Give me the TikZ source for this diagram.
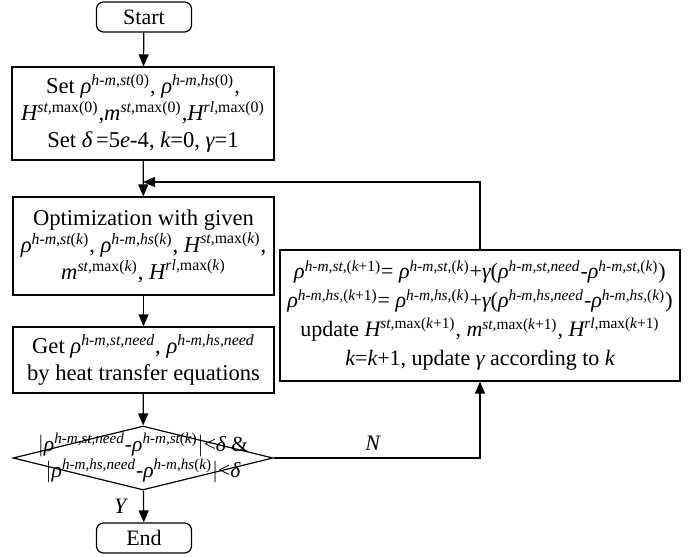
\documentclass[tikz,border=0pt]{standalone}
\usepackage{amsmath}
\usepackage{fontspec}
\setmainfont{Liberation Serif}
\usetikzlibrary{arrows.meta,shapes.geometric}
\newcommand{\iv}[1]{\text{\itshape #1}}
\newcommand{\up}[1]{\text{\upshape #1}}
\tikzset{
  procbox/.style={draw, line width=0.6pt, align=center, inner sep=2pt,
                  font=\fontsize{11.3}{13.5}\selectfont},
  termbox/.style={draw, line width=0.6pt, rounded corners=3.5pt,
                  minimum width=47.5pt, minimum height=15pt, inner sep=0pt,
                  font=\fontsize{11}{13}\selectfont},
  flow/.style={line width=0.6pt, -{Triangle[length=6pt,width=5pt]}},
  lbl/.style={font=\fontsize{11}{13}\selectfont\itshape}
}
\begin{document}
\begin{tikzpicture}[x=0.5pt,y=-0.5pt]
        \useasboundingbox (0,0) rectangle (694,556);
        \node[termbox] (start) at (144,17) {Start};
        \node[procbox, minimum width=131pt, minimum height=46.5pt] (init) at (143,113.5)
          {Set $\iv{ρ}^{\iv{h-m,st}\up{(0)}}$, $\iv{ρ}^{\iv{h-m,hs}\up{(0)}}$,\\
           $\iv{H}^{\iv{st,}\up{max(0)}}$,$\iv{m}^{\iv{st,}\up{max(0)}}$,$\iv{H}^{\iv{rl,}\up{max(0)}}$\\
           Set \iv{δ}\,=5\iv{e}-4, \iv{k}=0, \iv{γ}=1};
        \node[procbox, minimum width=130.5pt, minimum height=49pt] (opt) at (143.5,246)
          {Optimization with given\\
           $\iv{ρ}^{\iv{h-m,st}\up{(}\iv{k}\up{)}}$, $\iv{ρ}^{\iv{h-m,hs}\up{(}\iv{k}\up{)}}$, $\iv{H}^{\iv{st,}\up{max(}\iv{k}\up{)}}$,\\
           $\iv{m}^{\iv{st,}\up{max(}\iv{k}\up{)}}$, $\iv{H}^{\iv{rl,}\up{max(}\iv{k}\up{)}}$};
        \node[procbox, minimum width=130.5pt, minimum height=33pt] (heat) at (143.5,360)
          {Get $\iv{ρ}^{\iv{h-m,st,need}}$, $\iv{ρ}^{\iv{h-m,hs,need}}$\\
           by heat transfer equations};
        \node[draw, line width=0.6pt, diamond, inner sep=0pt,
              minimum width=130pt, minimum height=32pt] (check) at (143,458) {};
        \node[align=center, inner sep=0pt, font=\fontsize{10.8}{11.5}\selectfont] (cond) at (143,458)
          {$|\iv{ρ}^{\iv{h-m,st,need}}\up{-}\iv{ρ}^{\iv{h-m,st}\up{(}\iv{k}\up{)}}|\up{<}\iv{δ}$ \&\\
           $|\iv{ρ}^{\iv{h-m,hs,need}}\up{-}\iv{ρ}^{\iv{h-m,hs}\up{(}\iv{k}\up{)}}|\up{<}\iv{δ}$};
        \node[termbox] (end) at (144,538) {End};
        \node[procbox, minimum width=200pt, minimum height=65.5pt,
              font=\fontsize{11}{14.5}\selectfont] (upd) at (480,315.5)
          {$\iv{ρ}^{\iv{h-m,st,}\up{(}\iv{k}\up{+1)}}\up{= }\iv{ρ}^{\iv{h-m,st,}\up{(}\iv{k}\up{)}}\up{+}\iv{γ}\up{(}\iv{ρ}^{\iv{h-m,st,need}}\up{-}\iv{ρ}^{\iv{h-m,st,}\up{(}\iv{k}\up{)}}\up{)}$\\
           $\iv{ρ}^{\iv{h-m,hs,}\up{(}\iv{k}\up{+1)}}\up{= }\iv{ρ}^{\iv{h-m,hs,}\up{(}\iv{k}\up{)}}\up{+}\iv{γ}\up{(}\iv{ρ}^{\iv{h-m,hs,need}}\up{-}\iv{ρ}^{\iv{h-m,hs,}\up{(}\iv{k}\up{)}}\up{)}$\\
           update $\iv{H}^{\iv{st,}\up{max(}\iv{k}\up{+1)}}$, $\iv{m}^{\iv{st,}\up{max(}\iv{k}\up{+1)}}$, $\iv{H}^{\iv{rl,}\up{max(}\iv{k}\up{+1)}}$\\
           \iv{k}=\iv{k}+1, update \iv{γ} according to \iv{k}};
        \coordinate (join) at (143,182);
        \coordinate (turn) at (480,458);
        \coordinate (back) at (480,182);
        % main column
        \draw[flow] (start) -- (init);
        \draw[flow] (init) -- (opt);
        \draw[flow] (opt) -- (heat);
        \draw[flow] (heat) -- (check);
        \draw[flow] (check) -- node[lbl, left=5pt, pos=0.5] {Y} (end);
        % loop back
        \draw[flow] (check.east) -- node[lbl, above, pos=0.48] {N} (turn) -- (upd.south);
        \draw[flow] (upd.north) -- (back) -- (join);
\end{tikzpicture}
\end{document}
